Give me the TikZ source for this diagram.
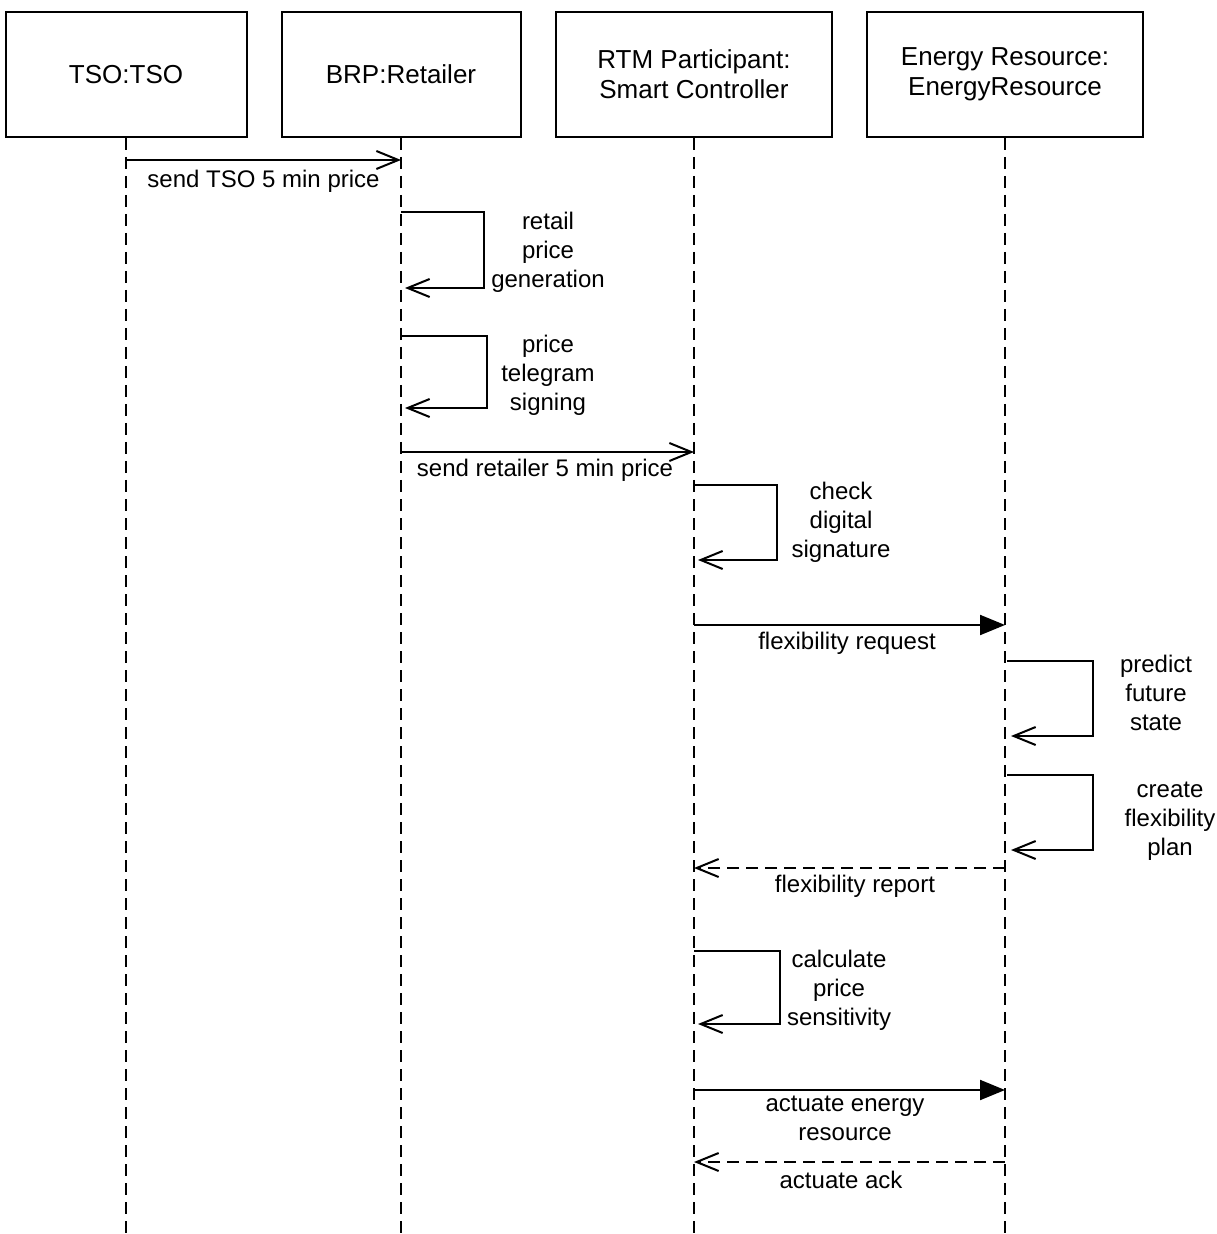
\documentclass[tikz,border=0pt]{standalone}
\usepackage{fontspec}
\setmainfont{Liberation Sans}
\usetikzlibrary{arrows.meta}
\begin{document}
\begin{tikzpicture}[x=0.5pt,y=-0.5pt,
  line width=1pt,
  actor/.style={draw,rectangle,inner sep=0pt,minimum height=62.5pt,align=center,font=\fontsize{13}{15}\selectfont},
  lifeline/.style={dash pattern=on 6pt off 3.5pt},
  msg/.style={-{Straight Barb[length=11pt,width=9pt]}},
  sync/.style={-{Triangle[length=12.5pt,width=10pt]}},
  reply/.style={dash pattern=on 6pt off 3.5pt,-{Straight Barb[length=11pt,width=9pt]}},
  lbl/.style={inner sep=0pt,align=center,font=\fontsize{12}{14.5}\selectfont}]
\useasboundingbox (0,0) rectangle (1216,1234);
% actors
\node[actor,minimum width=120.5pt] (tso) at (126,74.5) {TSO:TSO};
\node[actor,minimum width=119.5pt] (brp) at (401,74.5) {BRP:Retailer};
\node[actor,minimum width=138pt] (rtm) at (694,74.5) {RTM Participant:\\Smart Controller};
\node[actor,minimum width=138pt] (er) at (1005,74.5) {Energy Resource:\\EnergyResource};
% lifelines
\coordinate (tsoend) at (126,1234);
\coordinate (brpend) at (401,1234);
\coordinate (rtmend) at (694,1234);
\coordinate (erend) at (1005,1234);
\draw[lifeline] (tso.south) -- (tsoend);
\draw[lifeline] (brp.south) -- (brpend);
\draw[lifeline] (rtm.south) -- (rtmend);
\draw[lifeline] (er.south) -- (erend);
% message 1
\coordinate (m1a) at (126,160); \coordinate (m1b) at (401,160);
\draw[msg] (m1a) -- (m1b);
\node[lbl] (l1) at (263.5,181) {send TSO 5 min price};
% self 1
\coordinate (s1a) at (401,212); \coordinate (s1b) at (405,288);
\draw[msg] (s1a) -- +(83,0) |- (s1b);
\node[lbl] (ls1) at (548,252) {retail\\price\\generation};
% self 2
\coordinate (s2a) at (401,336); \coordinate (s2b) at (405,408);
\draw[msg] (s2a) -- +(86,0) |- (s2b);
\node[lbl] (ls2) at (548,375) {price\\telegram\\signing};
% message 2
\coordinate (m2a) at (401,452); \coordinate (m2b) at (694,452);
\draw[msg] (m2a) -- (m2b);
\node[lbl] (l2) at (545,470) {send retailer 5 min price};
% self 3
\coordinate (s3a) at (694,485); \coordinate (s3b) at (698,560);
\draw[msg] (s3a) -- +(83,0) |- (s3b);
\node[lbl] (ls3) at (841,522) {check\\digital\\signature};
% message 3
\coordinate (m3a) at (694,625); \coordinate (m3b) at (1005,625);
\draw[sync] (m3a) -- (m3b);
\node[lbl] (l3) at (847,643) {flexibility request};
% self 4
\coordinate (s4a) at (1007,661); \coordinate (s4b) at (1011,736);
\draw[msg] (s4a) -- (1093,661) |- (s4b);
\node[lbl] (ls4) at (1156,693) {predict\\future\\state};
% self 5
\coordinate (s5a) at (1007,775); \coordinate (s5b) at (1011,850);
\draw[msg] (s5a) -- (1093,775) |- (s5b);
\node[lbl] (ls5) at (1170,821) {create\\flexibility\\plan};
% reply 1
\coordinate (r1a) at (1005,868); \coordinate (r1b) at (694,868);
\draw[reply] (r1a) -- (r1b);
\node[lbl] (lr1) at (855,886) {flexibility report};
% self 6
\coordinate (s6a) at (694,951); \coordinate (s6b) at (698,1024);
\draw[msg] (s6a) -- +(86,0) |- (s6b);
\node[lbl] (ls6) at (839,990) {calculate\\price\\sensitivity};
% message 4
\coordinate (m4a) at (694,1090); \coordinate (m4b) at (1005,1090);
\draw[sync] (m4a) -- (m4b);
\node[lbl] (l4) at (845,1118) {actuate energy\\resource};
% reply 2
\coordinate (r2a) at (1005,1162); \coordinate (r2b) at (694,1162);
\draw[reply] (r2a) -- (r2b);
\node[lbl] (lr2) at (841,1180) {actuate ack};
\end{tikzpicture}
\end{document}
